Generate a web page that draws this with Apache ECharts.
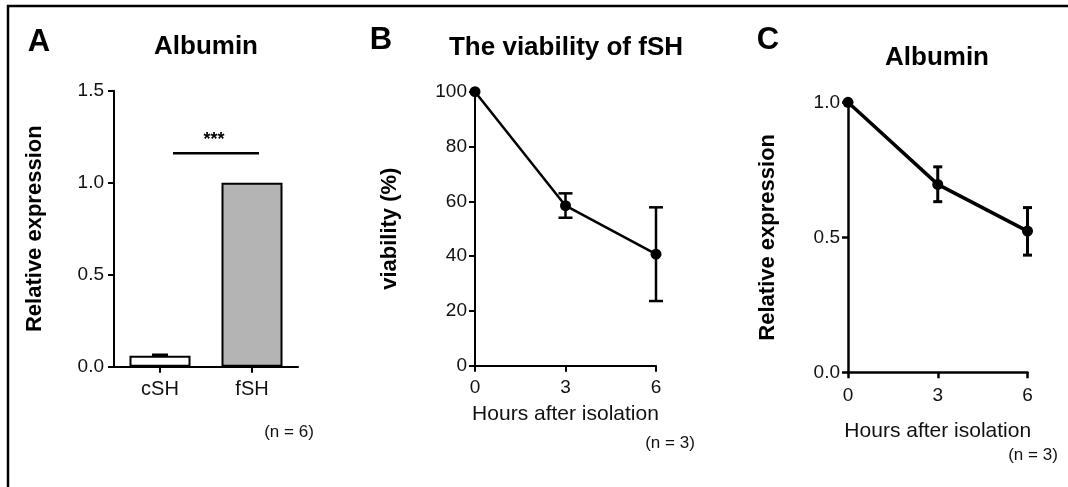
<!DOCTYPE html>
<html>
<head>
<meta charset="utf-8">
<script src="https://cdn.jsdelivr.net/npm/echarts@6/dist/echarts.min.js"></script>
<style>
html,body{margin:0;padding:0;background:#fff;}
#chart{width:1068px;height:487px;}
</style>
</head>
<body>
<div id="chart"></div>
<script>
// ---- Data ----
const barCategories = ['cSH', 'fSH'];
const barValues = [0.06, 1.0];
const barErrLow = [0.055, 1.0];
const barErrHigh = [0.065, 1.0];
const barColors = ['#ffffff', '#b4b4b4'];
const sigLevel = 1.16;
const sigLabel = '***';

const hours = [0, 3, 6];
const viability = [100, 58.4, 40.7];
const viabilityLow = [100, 54.0, 23.6];
const viabilityHigh = [100, 62.9, 57.8];

const albumin = [1.0, 0.696, 0.523];
const albuminLow = [1.0, 0.632, 0.434];
const albuminHigh = [1.0, 0.761, 0.610];

// ---- Chart ----
const FONT = "'Liberation Sans', Arial, Helvetica, sans-serif";
const chart = echarts.init(document.getElementById('chart'), null, {renderer: 'canvas'});

function errRender(capHalf, lw) {
  return function (params, api) {
    const x = api.value(0), lo = api.value(1), hi = api.value(2);
    if (hi === lo) return null;
    const pTop = api.coord([x, hi]);
    const pBot = api.coord([x, lo]);
    const st = {stroke: '#000', lineWidth: lw};
    return {
      type: 'group',
      children: [
        {type: 'line', shape: {x1: pTop[0], y1: pTop[1], x2: pBot[0], y2: pBot[1]}, style: st},
        {type: 'line', shape: {x1: pTop[0] - capHalf, y1: pTop[1], x2: pTop[0] + capHalf, y2: pTop[1]}, style: st},
        {type: 'line', shape: {x1: pBot[0] - capHalf, y1: pBot[1], x2: pBot[0] + capHalf, y2: pBot[1]}, style: st}
      ]
    };
  };
}

function axisCommon(lw) {
  return {
    axisLine: {show: true, onZero: false, lineStyle: {color: '#000', width: lw}},
    axisTick: {show: true, length: 6, lineStyle: {color: '#000', width: lw}},
    splitLine: {show: false},
    axisLabel: {color: '#111', fontFamily: FONT, fontSize: 19}
  };
}

function ttl(text, x, y, size, bold, color) {
  return {text: text, left: x, top: y, textAlign: 'center', padding: 0,
    textStyle: {fontSize: size, fontWeight: bold ? 'bold' : 'normal', color: color, fontFamily: FONT}};
}

const option = {
  backgroundColor: '#fff',
  animation: false,
  textStyle: {fontFamily: FONT},
  title: [
    ttl('A', 39, 27, 31, true, '#000'),
    ttl('Albumin', 206, 34, 26, true, '#000'),
    ttl('(n = 6)', 289, 424, 17, false, '#111'),
    ttl('B', 381, 25, 31, true, '#000'),
    ttl('The viability of fSH', 566, 35, 26, true, '#000'),
    ttl('(n = 3)', 670, 435, 17, false, '#111'),
    ttl('C', 768, 25, 31, true, '#000'),
    ttl('Albumin', 937, 45, 26, true, '#000'),
    ttl('(n = 3)', 1033, 447, 17, false, '#111')
  ],
  graphic: [
    {type: 'line', shape: {x1: 7, y1: 6, x2: 1068, y2: 6}, style: {stroke: '#000', lineWidth: 2.5}},
    {type: 'line', shape: {x1: 8, y1: 5, x2: 8, y2: 487}, style: {stroke: '#000', lineWidth: 2.5}}
  ],
  grid: [
    {left: 114, width: 184, top: 90.7, height: 276, containLabel: false},
    {left: 475, width: 181, top: 91.7, height: 274, containLabel: false},
    {left: 848, width: 179.5, top: 102.3, height: 270, containLabel: false}
  ],
  xAxis: [
    Object.assign(axisCommon(2), {
      gridIndex: 0, type: 'category', data: barCategories, boundaryGap: true,
      axisTick: {show: true, length: 6, alignWithLabel: true, lineStyle: {color: '#000', width: 2}},
      axisLabel: {color: '#111', fontFamily: FONT, fontSize: 20, margin: 13}
    }),
    Object.assign(axisCommon(2), {
      gridIndex: 1, type: 'value', min: 0, max: 6, interval: 3,
      axisLabel: {color: '#111', fontFamily: FONT, fontSize: 19, margin: 13},
      name: 'Hours after isolation', nameLocation: 'middle', nameGap: 38,
      nameTextStyle: {fontSize: 21, color: '#111', fontFamily: FONT}
    }),
    Object.assign(axisCommon(2.5), {
      gridIndex: 2, type: 'value', min: 0, max: 6, interval: 3,
      axisLabel: {color: '#111', fontFamily: FONT, fontSize: 19, margin: 14},
      name: 'Hours after isolation', nameLocation: 'middle', nameGap: 48,
      nameTextStyle: {fontSize: 21, color: '#111', fontFamily: FONT}
    })
  ],
  yAxis: [
    Object.assign(axisCommon(2), {
      gridIndex: 0, type: 'value', min: 0, max: 1.5, interval: 0.5,
      axisLabel: {color: '#111', fontFamily: FONT, fontSize: 19, margin: 10, formatter: v => v.toFixed(1)},
      name: 'Relative expression', nameLocation: 'middle', nameGap: 68, nameRotate: 90,
      nameTextStyle: {fontSize: 22, fontWeight: 'bold', color: '#000', fontFamily: FONT}
    }),
    Object.assign(axisCommon(2), {
      gridIndex: 1, type: 'value', min: 0, max: 100, interval: 20,
      axisLabel: {color: '#111', fontFamily: FONT, fontSize: 19, margin: 8},
      name: 'viability (%)', nameLocation: 'middle', nameGap: 74, nameRotate: 90,
      nameTextStyle: {fontSize: 22, fontWeight: 'bold', color: '#000', fontFamily: FONT}
    }),
    Object.assign(axisCommon(2.5), {
      gridIndex: 2, type: 'value', min: 0, max: 1.0, interval: 0.5,
      axisLabel: {color: '#111', fontFamily: FONT, fontSize: 19, margin: 8, formatter: v => v.toFixed(1)},
      name: 'Relative expression', nameLocation: 'middle', nameGap: 69, nameRotate: 90,
      nameTextStyle: {fontSize: 22, fontWeight: 'bold', color: '#000', fontFamily: FONT}
    })
  ],
  series: [
    {
      type: 'bar', xAxisIndex: 0, yAxisIndex: 0, barWidth: 61,
      data: barValues.map((v, i) => ({value: v, itemStyle: {color: barColors[i], borderColor: '#000', borderWidth: 2}}))
    },
    {
      type: 'custom', xAxisIndex: 0, yAxisIndex: 0,
      data: barCategories.map((c, i) => [i, barErrLow[i], barErrHigh[i]]),
      renderItem: errRender(8, 2.5)
    },
    {
      type: 'custom', xAxisIndex: 0, yAxisIndex: 0,
      data: [[0, 1, sigLevel]],
      renderItem: function (params, api) {
        const a = api.coord([api.value(0), api.value(2)]);
        const b = api.coord([api.value(1), api.value(2)]);
        const x1 = a[0] + 13, x2 = b[0] + 7;
        return {
          type: 'group',
          children: [
            {type: 'line', shape: {x1: x1, y1: a[1], x2: x2, y2: a[1]}, style: {stroke: '#000', lineWidth: 2.5}},
            {type: 'text', style: {text: sigLabel, x: (x1 + x2) / 2 - 2, y: a[1] - 4, align: 'center', verticalAlign: 'bottom', font: 'bold 18px ' + FONT, fill: '#000'}}
          ]
        };
      }
    },
    {
      type: 'custom', xAxisIndex: 1, yAxisIndex: 1,
      data: hours.map((h, i) => [h, viabilityLow[i], viabilityHigh[i]]),
      renderItem: errRender(7, 2.5), clip: false
    },
    {
      type: 'line', xAxisIndex: 1, yAxisIndex: 1, clip: false,
      data: hours.map((h, i) => [h, viability[i]]),
      symbol: 'circle', symbolSize: 11,
      itemStyle: {color: '#000'}, lineStyle: {color: '#000', width: 2.5}
    },
    {
      type: 'custom', xAxisIndex: 2, yAxisIndex: 2,
      data: hours.map((h, i) => [h, albuminLow[i], albuminHigh[i]]),
      renderItem: errRender(4.5, 3), clip: false
    },
    {
      type: 'line', xAxisIndex: 2, yAxisIndex: 2, clip: false,
      data: hours.map((h, i) => [h, albumin[i]]),
      symbol: 'circle', symbolSize: 11,
      itemStyle: {color: '#000'}, lineStyle: {color: '#000', width: 3.5}
    }
  ]
};
chart.setOption(option);
</script>
</body>
</html>
